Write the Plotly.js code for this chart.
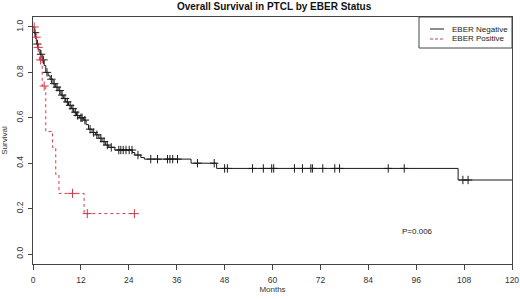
<!DOCTYPE html>
<html>
<head>
<meta charset="utf-8">
<script src="https://cdn.plot.ly/plotly-3.0.1.min.js"></script>
<style>html,body{margin:0;padding:0;background:#fff;}#chart{width:520px;height:299px;}</style>
</head>
<body>
<div id="chart"></div>
<script>
// EBER Negative Kaplan-Meier steps (months, survival)
const negTime = [0, 0.3, 0.6, 0.9, 1.3, 1.8, 2.3, 2.8, 3.2, 3.8, 4.3, 5.0, 5.6, 6.3, 7.0, 7.6, 8.2, 8.9, 9.6, 10.2, 10.9, 11.6, 12.6, 13.3, 13.9, 14.8, 15.7, 16.5, 17.3, 18.2, 19.0, 20.5, 24.9, 25.5, 27.0, 27.9, 39.6, 46.0, 106.5, 120];
const negSurv = [1.0, 0.975, 0.95, 0.925, 0.90, 0.88, 0.855, 0.83, 0.80, 0.785, 0.77, 0.75, 0.735, 0.72, 0.70, 0.685, 0.67, 0.655, 0.64, 0.625, 0.61, 0.60, 0.59, 0.57, 0.55, 0.535, 0.525, 0.51, 0.495, 0.48, 0.47, 0.458, 0.447, 0.436, 0.425, 0.418, 0.40, 0.377, 0.326, 0.326];
const negCensor = [0.5, 1.1, 2.0, 2.6, 3.5, 4.6, 5.3, 6.0, 6.7, 7.3, 8.0, 8.6, 9.3, 10.0, 10.6, 11.2, 12.0, 12.3, 13.0, 14.3, 15.2, 16.0, 17.0, 17.8, 18.6, 19.6, 21.5, 22.0, 22.6, 23.3, 24.1, 24.8, 26.3, 29.5, 31.2, 33.7, 34.3, 35.0, 36.2, 41.2, 45.4, 48.0, 48.7, 55.0, 57.7, 59.8, 60.3, 65.5, 67.5, 69.6, 70.0, 72.6, 75.6, 76.8, 89.0, 93.0, 107.7, 109.0];

// EBER Positive Kaplan-Meier steps
const posTime = [0, 0.5, 1.0, 1.6, 2.3, 3.2, 4.9, 5.7, 6.5, 12.8, 25.4];
const posSurv = [1.0, 0.955, 0.91, 0.855, 0.74, 0.54, 0.47, 0.35, 0.267, 0.178, 0.178];
const posCensor = [0.3, 0.8, 1.3, 1.9, 2.8, 9.9, 13.6, 25.4];

const xTicks = [0, 12, 24, 36, 48, 60, 72, 84, 96, 108, 120];
const yTicks = [0, 0.2, 0.4, 0.6, 0.8, 1.0];
const seriesNames = ["EBER Negative", "EBER Positive"];
const pText = "P=0.006";

function stepAt(times, surv, t) {
  let v = surv[0];
  for (let i = 0; i < times.length; i++) { if (times[i] <= t) v = surv[i]; }
  return v;
}

const negCol = '#1a1a1a', posCol = '#d23a48';
const F = 'Liberation Sans, Arial, Helvetica, sans-serif';

const traces = [
  {x: negTime, y: negSurv, mode: 'lines', line: {shape: 'hv', color: negCol, width: 1}, name: seriesNames[0], hoverinfo: 'skip'},
  {x: posTime, y: posSurv, mode: 'lines', line: {shape: 'hv', color: posCol, width: 1, dash: '3px,3px'}, name: seriesNames[1], hoverinfo: 'skip'},
  {x: negCensor, y: negCensor.map(t => stepAt(negTime, negSurv, t)), mode: 'markers',
   marker: {symbol: 'cross-thin', size: 6, line: {color: negCol, width: 1}}, showlegend: false, hoverinfo: 'skip'},
  {x: posCensor, y: posCensor.map(t => stepAt(posTime, posSurv, t)), mode: 'markers',
   marker: {symbol: 'cross-thin', size: 6.5, line: {color: posCol, width: 1}}, showlegend: false, hoverinfo: 'skip'}
];

const L = 33, R = 512, T = 17, B = 264;
const pw = R - L, ph = B - T;
const px = v => (v - L) / pw;
const py = v => (B - v) / ph;

const layout = {
  width: 520, height: 299,
  margin: {l: L, r: 520 - R, t: T, b: 299 - B},
  paper_bgcolor: '#fff', plot_bgcolor: '#fff',
  showlegend: false,
  font: {family: F, size: 8, color: '#333'},
  title: {text: '<b>Overall Survival in PTCL by EBER Status</b>', font: {family: F, size: 10, color: '#111'},
          x: 0.527, xanchor: 'center', y: 0.978, yanchor: 'middle'},
  xaxis: {range: [0, 120], tickvals: xTicks, ticks: 'outside', ticklen: 5, tickcolor: '#444',
          showline: true, mirror: true, linecolor: '#444', linewidth: 1, showgrid: false, zeroline: false,
          ticklabelstandoff: 3,
          tickfont: {family: F, size: 8.5, color: '#333'},
          title: {text: 'Months', font: {family: F, size: 8, color: '#333'}, standoff: 1}},
  yaxis: {range: [-0.044, 1.044], tickvals: yTicks, tickformat: '.1f', ticks: 'outside', ticklen: 4, tickcolor: '#444',
          tickangle: -90, showline: true, mirror: true, linecolor: '#444', linewidth: 1, showgrid: false, zeroline: false,
          ticklabelstandoff: 2,
          tickfont: {family: F, size: 8.5, color: '#333'},
          title: {text: 'Survival', font: {family: F, size: 8, color: '#333'}, standoff: 5}},
  shapes: [
    {type: 'rect', xref: 'paper', yref: 'paper', x0: px(419), x1: 1, y0: py(48), y1: 1, line: {color: '#444', width: 1}, fillcolor: '#fff'},
    {type: 'line', xref: 'paper', yref: 'paper', x0: px(430), x1: px(444), y0: py(29), y1: py(29), line: {color: negCol, width: 1}},
    {type: 'line', xref: 'paper', yref: 'paper', x0: px(430), x1: px(444), y0: py(39), y1: py(39), line: {color: posCol, width: 1, dash: '3px,2px'}}
  ],
  annotations: [
    {xref: 'paper', yref: 'paper', x: px(450), y: py(29), xanchor: 'left', yanchor: 'middle', text: seriesNames[0], showarrow: false, font: {family: F, size: 8, color: '#222'}},
    {xref: 'paper', yref: 'paper', x: px(450), y: py(39), xanchor: 'left', yanchor: 'middle', text: seriesNames[1], showarrow: false, font: {family: F, size: 8, color: '#222'}},
    {xref: 'x', yref: 'y', x: 96.2, y: 0.097, text: pText, showarrow: false, font: {family: F, size: 8, color: '#222'}}
  ]
};

Plotly.newPlot('chart', traces, layout, {displayModeBar: false, staticPlot: true});
</script>
</body>
</html>
